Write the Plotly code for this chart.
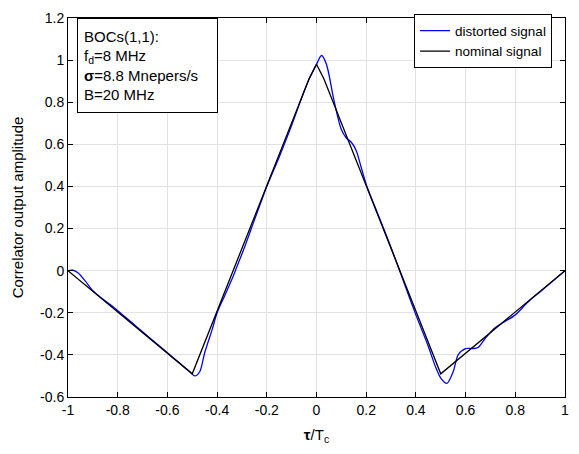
import plotly.graph_objects as go

# distorted signal
dist_x = [-1.00, -0.98, -0.96, -0.93, -0.90, -0.86, -0.82, -0.78, -0.74, -0.70, -0.65, -0.60,
          -0.55, -0.51, -0.49, -0.47, -0.45, -0.42, -0.40, -0.37, -0.34, -0.32, -0.29, -0.25,
          -0.20, -0.15, -0.10, -0.06, -0.03, 0.00, 0.02, 0.04, 0.07, 0.10, 0.12, 0.14, 0.16,
          0.18, 0.20, 0.25, 0.30, 0.35, 0.40, 0.45, 0.48, 0.50, 0.525, 0.55, 0.57, 0.60, 0.63,
          0.65, 0.68, 0.72, 0.76, 0.80, 0.85, 0.90, 0.95, 1.00]
dist_y = [0.000, 0.002, -0.010, -0.050, -0.095, -0.135, -0.170, -0.210, -0.250, -0.290, -0.340, -0.390,
          -0.440, -0.480, -0.500, -0.480, -0.390, -0.280, -0.200, -0.120, -0.040, 0.020, 0.110, 0.240,
          0.400, 0.540, 0.690, 0.820, 0.910, 0.980, 1.022, 0.980, 0.810, 0.670, 0.630, 0.610, 0.570,
          0.490, 0.410, 0.260, 0.110, -0.050, -0.210, -0.360, -0.460, -0.510, -0.535, -0.480, -0.400, -0.370, -0.370,
          -0.365, -0.320, -0.270, -0.240, -0.210, -0.150, -0.100, -0.050, 0.000]

# nominal signal
nom_x = [-1.0, -0.5, -0.03, 0.0, 0.03, 0.5, 1.0]
nom_y = [0.0, -0.49, 0.91, 0.98, 0.91, -0.49, 0.0]

xticks = [-1, -0.8, -0.6, -0.4, -0.2, 0, 0.2, 0.4, 0.6, 0.8, 1]
xticklabels = ["-1", "-0.8", "-0.6", "-0.4", "-0.2", "0", "0.2", "0.4", "0.6", "0.8", "1"]
yticks = [-0.6, -0.4, -0.2, 0, 0.2, 0.4, 0.6, 0.8, 1, 1.2]
yticklabels = ["-0.6", "-0.4", "-0.2", "0", "0.2", "0.4", "0.6", "0.8", "1", "1.2"]

fig = go.Figure()
fig.add_trace(go.Scatter(x=dist_x, y=dist_y, mode="lines", name="distorted signal",
                         line=dict(color="#0000ff", width=1.3, shape="spline", smoothing=0.8)))
fig.add_trace(go.Scatter(x=nom_x, y=nom_y, mode="lines", name="nominal signal",
                         line=dict(color="black", width=1.3)))

font = "Liberation Sans, Arial, sans-serif"
axis_common = dict(showline=True, linecolor="black", linewidth=1, mirror="ticks",
                   ticks="inside", ticklen=5, tickcolor="black",
                   showgrid=True, gridcolor="#e2e2e2", gridwidth=1, zeroline=False,
                   tickfont=dict(family=font, size=14, color="black"))

fig.update_layout(
    width=579, height=454,
    margin=dict(l=68, r=12, t=10, b=57),
    paper_bgcolor="white", plot_bgcolor="white",
    font=dict(family=font, size=14, color="black"),
    xaxis=dict(range=[-1, 1], tickvals=xticks, ticktext=xticklabels,
               title=dict(text="<b>τ</b>/T<sub>c</sub>", font=dict(size=15), standoff=12),
               **axis_common),
    yaxis=dict(range=[-0.6, 1.2], tickvals=yticks, ticktext=yticklabels,
               title=dict(text="Correlator output amplitude", font=dict(size=15), standoff=12),
               **axis_common),
    legend=dict(x=0.974, y=1.0095, xanchor="right", yanchor="top",
                bordercolor="black", borderwidth=1, bgcolor="white",
                font=dict(size=13.5), tracegroupgap=0),
    showlegend=True,
)

fig.add_annotation(
    xref="paper", yref="paper", x=0.018, y=1.0, xanchor="left", yanchor="top",
    text="BOCs(1,1):<br>f<sub>d</sub>=8 MHz<br><b>σ</b>=8.8 Mnepers/s<br>B=20 MHz",
    showarrow=False, align="left", valign="middle", width=127, height=81,
    bordercolor="black", borderwidth=1, bgcolor="white",
    borderpad=6, font=dict(family=font, size=15, color="black"),
)

fig.write_html("out.html")
